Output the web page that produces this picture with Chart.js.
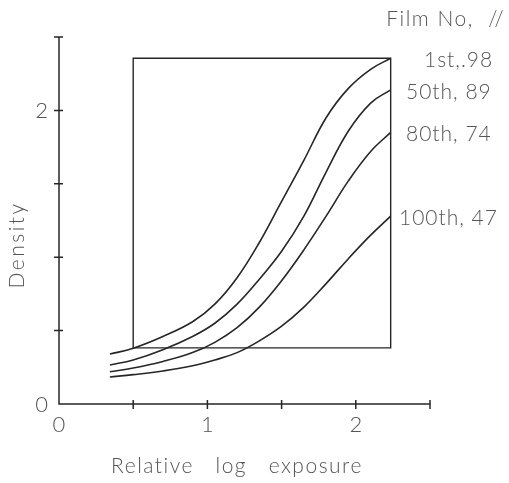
<!DOCTYPE html>
<html>
<head>
<meta charset="utf-8">
<script src="https://cdn.jsdelivr.net/npm/chart.js@4"></script>
<style>
html,body{margin:0;padding:0;background:#fff;}
#wrap{width:509px;height:483px;}
</style>
</head>
<body>
<div id="wrap"><canvas id="c" width="509" height="483"></canvas></div>
<script>
// ---- data ----
const logExposure = [0.343, 0.5, 0.7, 0.9, 1.05, 1.2, 1.35, 1.5, 1.65, 1.8, 1.95, 2.1, 2.235];
const film1Y   = [0.34, 0.38, 0.46, 0.56, 0.68, 0.86, 1.10, 1.38, 1.66, 1.95, 2.15, 2.28, 2.355];
const film50Y  = [0.266, 0.30, 0.37, 0.46, 0.55, 0.68, 0.85, 1.04, 1.28, 1.58, 1.86, 2.05, 2.14];
const film80Y  = [0.22, 0.245, 0.29, 0.35, 0.42, 0.52, 0.66, 0.84, 1.05, 1.28, 1.52, 1.72, 1.85];
const film100Y = [0.184, 0.20, 0.225, 0.26, 0.30, 0.35, 0.43, 0.53, 0.66, 0.82, 0.99, 1.15, 1.28];
const boxX = [0.5, 2.235, 2.235, 0.5, 0.5];
const boxY = [0.382, 0.382, 2.355, 2.355, 0.382];
const seriesLabels = ["1st,.98", "50th, 89", "80th, 74", "100th, 47"];
const legendTitle = "Film No,  //";
const xTickValues = [0.5, 1, 1.5, 2, 2.5];
const yTickValues = [0.5, 1, 1.5, 2, 2.5];
const xTickLabels = ["0", "1", "2"];
const xTickLabelValues = [0, 1, 2];
const yTickLabels = ["0", "2"];
const yTickLabelValues = [0, 2];
const xTitle = "Relative   log   exposure";
const yTitle = "Density";

function pts(xs, ys){ return xs.map((x,i)=>({x:x, y:ys[i]})); }

const LINE = '#262626';
const TEXT = '#555555';
const FONT = '300 21px "Lato", "DejaVu Sans", sans-serif';
const TICKFONT = '300 22px "Lato", "DejaVu Sans", sans-serif';

const drawPlugin = {
  id: 'drawExtras',
  afterDraw(chart){
    const ctx = chart.ctx;
    const xs = chart.scales.x, ys = chart.scales.y;
    const x0 = xs.getPixelForValue(0), y0 = ys.getPixelForValue(0);
    const xEnd = xs.getPixelForValue(2.5), yTop = ys.getPixelForValue(2.5);
    ctx.save();
    ctx.strokeStyle = LINE;
    ctx.lineWidth = 1.5;
    ctx.beginPath();
    ctx.moveTo(x0, yTop); ctx.lineTo(x0, y0); ctx.lineTo(xEnd, y0);
    xTickValues.forEach(v=>{ const p = xs.getPixelForValue(v); ctx.moveTo(p, y0-4); ctx.lineTo(p, y0+5); });
    yTickValues.forEach(v=>{ const p = ys.getPixelForValue(v); ctx.moveTo(x0-5, p); ctx.lineTo(x0+4, p); });
    ctx.stroke();

    ctx.fillStyle = TEXT;
    ctx.font = TICKFONT;
    ctx.textAlign = 'center'; ctx.textBaseline = 'middle';
    xTickLabels.forEach((t,i)=>{ ctx.fillText(t, xs.getPixelForValue(xTickLabelValues[i]), y0 + 21); });
    ctx.textAlign = 'right';
    yTickLabels.forEach((t,i)=>{ ctx.fillText(t, x0 - 11, ys.getPixelForValue(yTickLabelValues[i]) + 1); });
    ctx.font = FONT;
    ctx.letterSpacing = '1.5px';
    ctx.textAlign = 'center';
    ctx.fillText(xTitle, 237, 466);
    ctx.save();
    ctx.translate(17, 245);
    ctx.rotate(-Math.PI/2);
    ctx.letterSpacing = '2.5px';
    ctx.fillText(yTitle, 0, 0);
    ctx.restore();
    ctx.textAlign = 'right';
    ctx.fillText(legendTitle, 505, 19);
    ctx.letterSpacing = '1px';
    ctx.textAlign = 'left';
    const leftEdge = [424, 406, 406, 399];
    for (let i = 0; i < 4; i++){
      const meta = chart.getDatasetMeta(i);
      const last = meta.data[meta.data.length - 1];
      ctx.fillText(seriesLabels[i], leftEdge[i], last.y + 2);
    }
    ctx.restore();
  }
};

const lineDs = (data) => ({
  data: data, showLine: true, borderColor: LINE, borderWidth: 1.6,
  pointRadius: 0, tension: 0.4, fill: false
});

new Chart(document.getElementById('c'), {
  type: 'scatter',
  data: {
    datasets: [
      lineDs(pts(logExposure, film1Y)),
      lineDs(pts(logExposure, film50Y)),
      lineDs(pts(logExposure, film80Y)),
      lineDs(pts(logExposure, film100Y)),
      { data: pts(boxX, boxY), showLine: true, borderColor: LINE, borderWidth: 1.4,
        pointRadius: 0, tension: 0, fill: false }
    ]
  },
  options: {
    responsive: false,
    animation: false,
    devicePixelRatio: 1,
    layout: { padding: { top: 37, right: 79, left: 0, bottom: 0 } },
    plugins: { legend: { display: false }, tooltip: { enabled: false } },
    scales: {
      x: {
        type: 'linear', min: 0, max: 2.5,
        grid: { display: false }, border: { display: false },
        ticks: { display: false },
        afterFit(s){ s.height = 79; }
      },
      y: {
        type: 'linear', min: 0, max: 2.5,
        grid: { display: false }, border: { display: false },
        ticks: { display: false },
        afterFit(s){ s.width = 59; }
      }
    }
  },
  plugins: [drawPlugin]
});
</script>
</body>
</html>
